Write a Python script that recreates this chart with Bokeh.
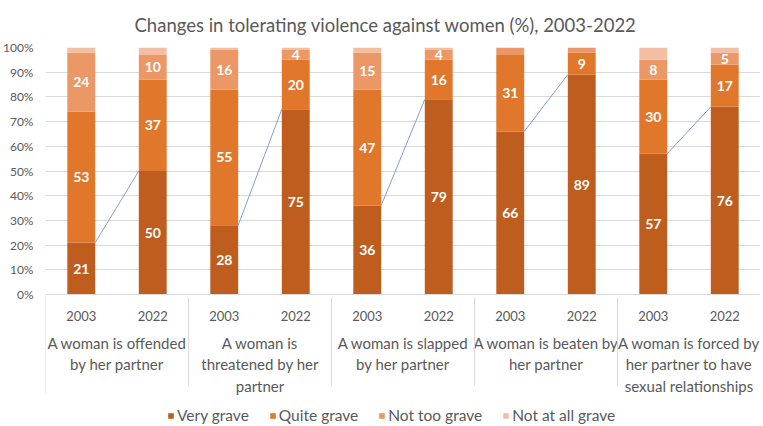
from bokeh.plotting import figure
from bokeh.models import (FactorRange, Legend, LegendItem, PrintfTickFormatter,
                          ColumnDataSource, FixedTicker, Range1d)
from bokeh.embed import file_html
from bokeh.resources import INLINE
from bokeh.core.properties import value

categories = ["A woman is offended\nby her partner",
              "A woman is\nthreatened by her\npartner",
              "A woman is slapped\nby her partner",
              "A woman is beaten by\nher partner",
              "A woman is forced by\nher partner to have\nsexual relationships"]
years = ["2003", "2022"]
very_grave = [21, 50, 28, 75, 36, 79, 66, 89, 57, 76]
quite_grave = [53, 37, 55, 20, 47, 16, 31, 9, 30, 17]
not_too_grave = [24, 10, 16, 4, 15, 4, 3, 2, 8, 5]
not_at_all_grave = [2, 3, 1, 1, 2, 1, 0, 0, 5, 2]
series_names = ["Very grave", "Quite grave", "Not too grave", "Not at all grave"]
y_ticks = [0, 10, 20, 30, 40, 50, 60, 70, 80, 90, 100]

colors = ["#BF5D1F", "#E0772B", "#EC9766", "#F4BEA4"]
FONT = "Lato"
GREY = "#595959"

factors = [(c, y) for c in categories for y in years]
keys = ["vg", "qg", "ntg", "nag"]
data = dict(x=factors, vg=very_grave, qg=quite_grave, ntg=not_too_grave, nag=not_at_all_grave)
source = ColumnDataSource(data)

# plot area 0..100 occupies the top 247 px; the rest of the frame holds axis labels + legend
FRAME_H = 379
y_bottom = 100 - 100 * FRAME_H / 247.0

p = figure(frame_width=715, frame_height=FRAME_H, output_backend="svg", toolbar_location=None,
           x_range=FactorRange(*factors, factor_padding=0, group_padding=0, range_padding=0),
           y_range=Range1d(y_bottom, 100),
           min_border_left=40, min_border_right=0, min_border_top=0, min_border_bottom=0)
p.outline_line_color = None
p.background_fill_color = "white"

p.title.text = "Changes in tolerating violence against women (%), 2003-2022"
p.title.align = "left"
p.title.offset = 89
p.title.text_font = FONT
p.title.text_font_size = "18.5px"
p.title.text_font_style = "normal"
p.title.text_color = GREY
p.title.standoff = 23

bar_w = 0.39
renderers = p.vbar_stack(keys, x="x", width=bar_w, color=colors, line_color=None, source=source)

# series lines connecting "Very grave" tops
sx0, sx1, sy = [], [], []
for i, c in enumerate(categories):
    sx0.append((c, "2003", bar_w / 2))
    sx1.append((c, "2022", -bar_w / 2))
    sy.append(very_grave[2 * i])
sy1 = [very_grave[2 * i + 1] for i in range(len(categories))]
p.segment(x0=sx0, y0=sy, x1=sx1, y1=sy1, line_color="#7F9FD8", line_width=1)

# left edge separator of the category axis
edge = (categories[0], years[0], -0.5)
p.segment(x0=[edge], y0=[0], x1=[edge], y1=[-40], line_color="#D9D9D9", line_width=1)

# data labels
lx, ly, lt = [], [], []
for j, f in enumerate(factors):
    base = 0
    for vals in (very_grave, quite_grave, not_too_grave):
        v = vals[j]
        if v >= 4:
            lx.append(f)
            ly.append(base + v / 2)
            lt.append(str(v))
        base += v
p.text(x=lx, y=ly, text=lt, text_color="white", text_font=value(FONT),
       text_font_style="bold", text_font_size="14px", text_align="center",
       text_baseline="middle")

# y axis
p.yaxis.ticker = FixedTicker(ticks=y_ticks)
p.yaxis.formatter = PrintfTickFormatter(format="%d%%")
p.yaxis.axis_line_color = None
p.yaxis.major_tick_line_color = None
p.yaxis.minor_tick_line_color = None
p.yaxis.major_label_text_font = FONT
p.yaxis.major_label_text_font_size = "12px"
p.yaxis.major_label_text_color = GREY
p.yaxis.major_label_standoff = 6
p.ygrid.grid_line_color = "#D9D9D9"
p.xgrid.grid_line_color = None

# x axis, drawn at y = 0
xa = p.xaxis[0]
xa.fixed_location = 0
xa.axis_line_color = "#D9D9D9"
xa.major_tick_line_color = None
xa.minor_tick_line_color = None
xa.major_label_text_font = FONT
xa.major_label_text_font_size = "13px"
xa.major_label_text_color = GREY
xa.group_text_font = FONT
xa.group_text_font_size = "15px"
xa.group_text_color = GREY
xa.group_text_font_style = "normal"
xa.separator_line_color = "#D9D9D9"
xa.separator_line_width = 1
xa.major_label_standoff = 10
xa.axis_label_standoff = 0

items = [LegendItem(label=n, renderers=[r]) for n, r in zip(series_names, renderers)]
legend = Legend(items=items, orientation="horizontal", location=(122, 2),
                border_line_color=None, background_fill_alpha=0,
                label_text_font=FONT, label_text_font_size="15.5px",
                label_text_color=GREY, glyph_width=7, glyph_height=7,
                spacing=20, padding=0, margin=0, label_standoff=3)
p.add_layout(legend, "center")

open("out.html", "w").write(file_html(p, INLINE))
